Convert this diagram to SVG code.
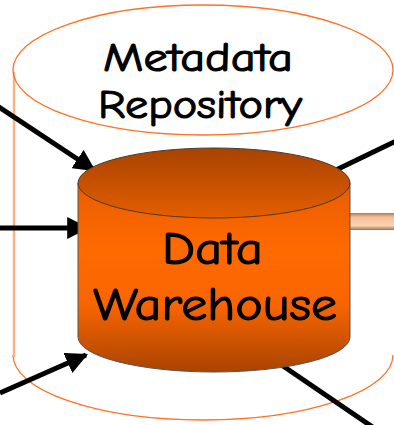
<svg xmlns="http://www.w3.org/2000/svg" width="394" height="425" viewBox="0 0 394 425">
  <defs>
    <linearGradient id="dwTop" x1="0" y1="0" x2="0" y2="1">
      <stop offset="0" stop-color="#a84300"/>
      <stop offset="1" stop-color="#e45e00"/>
    </linearGradient>
    <linearGradient id="dwBody" gradientUnits="userSpaceOnUse" x1="0" y1="183" x2="0" y2="372">
      <stop offset="0" stop-color="#e85c00"/>
      <stop offset="0.35" stop-color="#ff6a00"/>
      <stop offset="0.65" stop-color="#f86400"/>
      <stop offset="1" stop-color="#a84400"/>
    </linearGradient>
    <linearGradient id="pipe" x1="0" y1="0" x2="0" y2="1">
      <stop offset="0" stop-color="#b87850"/>
      <stop offset="0.25" stop-color="#f4c09a"/>
      <stop offset="0.75" stop-color="#fad2b0"/>
      <stop offset="1" stop-color="#a86c48"/>
    </linearGradient>
    <marker id="head" viewBox="0 0 10 10" refX="9" refY="5" markerWidth="4.4" markerHeight="4.4" orient="auto" markerUnits="strokeWidth">
      <path d="M0,0 L10,5 L0,10 Z" fill="#000"/>
    </marker>
  </defs>
  <style>
    .label { font-family: "Comic Sans MS", "Comic Neue", "DejaVu Sans", sans-serif; font-weight: normal; fill: #000; stroke: #000; stroke-width: 1.1; }
    .repo { fill: none; stroke: #ff7326; stroke-width: 1.3; }
    .side { stroke: #f9b28c; stroke-width: 2.5; }
    .flow { stroke: #000; stroke-width: 5; fill: none; }
  </style>

  <!-- Metadata repository: large outline cylinder -->
  <g id="metadata-repository">
    <path class="repo" d="M13,355 A190,65 0 0 0 393,355"/>
    <line class="side" x1="14" y1="72" x2="14" y2="357"/>
    <ellipse class="repo" cx="203" cy="70" rx="190" ry="65" fill="#fff"/>
    <text class="label" x="103" y="71" font-size="40" textLength="190" lengthAdjust="spacingAndGlyphs">Metadata</text>
    <text class="label" x="98" y="118" font-size="40" textLength="204" lengthAdjust="spacingAndGlyphs">Repository</text>
  </g>

  <!-- Connectors -->
  <g id="connectors">
    <line class="flow" x1="-4" y1="105" x2="94" y2="170" marker-end="url(#head)"/>
    <line class="flow" x1="0" y1="228" x2="87" y2="228" marker-end="url(#head)"/>
    <line class="flow" x1="0" y1="393" x2="86" y2="355" marker-end="url(#head)"/>
    <line class="flow" x1="336" y1="170" x2="398" y2="140"/>
    <line class="flow" x1="283" y1="366" x2="374" y2="428"/>
    <rect x="350" y="213" width="48" height="17" fill="url(#pipe)"/>
  </g>

  <!-- Data warehouse: solid orange cylinder -->
  <g id="data-warehouse">
    <path d="M78,183 L78,337 A136,35 0 0 0 350,337 L350,183 Z" fill="url(#dwBody)" stroke="#555" stroke-width="1"/>
    <ellipse cx="214" cy="183" rx="136" ry="35" fill="url(#dwTop)" stroke="#4a3a30" stroke-width="1"/>
    <text class="label" x="162" y="264" font-size="47" textLength="101" lengthAdjust="spacingAndGlyphs">Data</text>
    <text class="label" x="93" y="320" font-size="47" textLength="244" lengthAdjust="spacingAndGlyphs">Warehouse</text>
  </g>
</svg>
